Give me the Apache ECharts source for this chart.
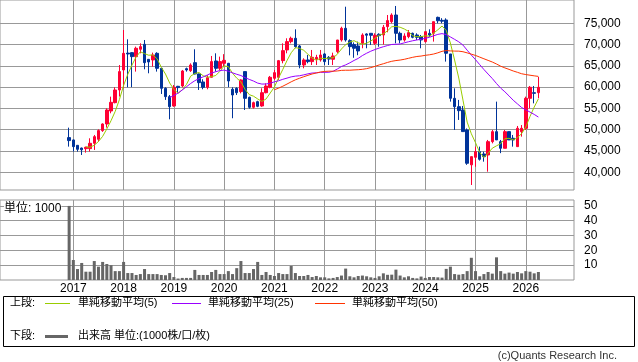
<!DOCTYPE html>
<html><head><meta charset="utf-8">
<script src="https://cdn.jsdelivr.net/npm/echarts@6/dist/echarts.min.js"></script>
<style>html,body{margin:0;padding:0;background:#fff}#c{width:638px;height:362px}</style>
</head><body><div id="c"></div>
<script>
// Monthly candles, Dec 2016 .. Apr 2026
const opens  = [48150,47600,46340,45700,45560,45560,46810,47750,49790,51350,54400,56360,59340,64040,68000,68110,67170,68900,70070,66540,66390,67950,64430,59730,57770,55580,60200,60280,64350,63880,65760,63100,61220,59970,62320,66150,64430,65600,65600,59500,59730,58950,63650,57610,55270,56600,55580,58700,59970,62080,62320,66230,68740,70700,71480,69680,65210,66390,66000,66600,66400,67800,67000,66550,68350,71080,73830,70930,70000,69680,70300,72500,72650,70300,72420,72260,74220,75390,76950,72650,71080,71870,72650,72260,71870,70700,72650,72650,76400,75700,75780,67800,57380,55420,54640,49950,41750,43520,44850,44300,44070,47200,49550,47200,45640,49550,48000,46030,49550,50340,57380,58700,58700];
const closes = [47450,46030,45400,45300,45870,46810,48380,49790,51350,54640,56440,59340,63650,67950,67800,67170,69130,69520,65760,65920,67560,64430,59730,57770,55420,59970,59900,63800,64040,65210,63100,61060,59970,62240,66000,64430,66000,66300,61450,58160,58700,61690,57380,55270,56360,55500,58700,60270,62320,63410,66230,68580,70700,71480,69520,65210,66390,66000,67010,67000,67560,66000,66600,67330,71080,73830,71080,69520,69130,68500,72260,72200,72180,72180,72100,74060,75630,76950,72650,71080,72020,72810,71710,71710,71080,73040,72260,75390,75600,75500,67960,57380,55420,54480,49560,42120,43680,44850,43050,43680,47200,49550,47600,45640,49550,47600,47600,50340,50340,57380,59970,58550,59970];
const lows   = [46030,44860,44860,44070,44620,44860,45250,47200,49500,50500,53860,56200,57800,59730,59970,60000,63650,67950,64200,63260,64820,63650,58400,57000,52450,55400,58700,59970,63650,63570,63000,59340,59500,59500,62300,63650,64040,64750,60000,52700,58160,58550,54640,54950,54950,55300,55400,58550,59730,61700,61700,65600,67950,70300,69130,64430,64430,65600,65210,65200,66000,65200,65200,65200,67950,70700,70700,67480,66900,67500,69130,69130,69900,69900,69500,70000,72890,74990,70300,70300,70700,71480,71480,71080,69130,70460,71800,70700,75000,75000,66000,56600,49950,52300,49560,41750,37020,41300,42750,42500,40150,46800,47600,44500,45640,47600,46030,46030,48380,49950,55030,56200,57380];
const highs  = [50490,47700,46400,45800,46030,47990,48770,50100,51500,55030,57770,59970,65200,73430,71240,68200,69520,70300,71080,66600,68110,68200,64500,59970,58160,60500,60300,64040,64590,65600,68900,63200,61850,62780,67330,67950,67170,67750,65700,59970,59970,61850,63650,57770,56600,56800,59730,60900,62630,64040,66390,70300,71480,71870,73590,69900,66780,67560,68740,67600,68740,68000,67300,68100,71100,74200,78900,71240,70500,70700,72650,72650,72650,72650,72650,74610,76950,77350,79070,73040,72650,73430,72810,72650,72260,73040,73590,75390,76560,76200,76170,67800,59730,57000,55580,50300,43700,46030,46030,44850,47600,49950,56600,47600,49950,49550,48770,50880,51100,57770,60280,60280,62400];
const volumes = [50,13.5,7.4,11.5,5.6,5.6,12.8,9,12.2,10.8,10,6,6,12.2,4.7,4.7,3.4,4,7.4,4,4,4,3.4,3.2,4.7,2,1,1.4,1.4,1.4,6.8,3.4,3.4,3.4,5.4,6.8,4,4,6,4,8,12.8,4.7,4.7,7.4,12.2,3.4,5.4,3.4,2.7,4.7,4,4,9.5,4.7,2.7,2.7,3.4,2,2.7,1.8,1.8,1.1,1.4,2,3,7.7,2.5,1.8,2.7,3,2.5,1.8,1.4,2.5,4.5,3.5,3.6,7,3,1.8,2.5,1.4,1.1,2.3,1.4,2,2,1.8,1.6,7.5,9,4,3.6,4,6,15,6,2.5,4,5.4,4.3,15.3,6,4.3,5,4.3,5.4,4.5,6,5.6,4.5,5.4];
const yearLabels = ['2017','2018','2019','2020','2021','2022','2023','2024','2025','2026'];
const priceTicks = [40000,45000,50000,55000,60000,65000,70000,75000];
const volumeTicks = [10,20,30,40,50];
const maPeriods = [5,25,50];
const maNames = ['単純移動平均(5)','単純移動平均(25)','単純移動平均(50)'];
const maColors = ['#99cc00','#9900ff','#ff3300'];

// month labels for each candle (first = 2016-12)
const months = opens.map((_, k) => { const m = 11 + k; return (2016 + Math.floor(m / 12)) + '-' + String(m % 12 + 1).padStart(2, '0'); });
const yearIdx = yearLabels.map(y => months.indexOf(y + '-01'));

function sma(n) {
  const out = [];
  for (let i = n - 1; i < closes.length; i++) {
    let s = 0; for (let j = i - n + 1; j <= i; j++) s += closes[j];
    out.push([i, s / n]);
  }
  return out;
}

const GRID = '#999';
const FONT = "'Liberation Sans','Noto Sans CJK JP',sans-serif";
const chart = echarts.init(document.getElementById('c'), null, {renderer: 'canvas'});
const xCommon = {
  type: 'value', min: -16.5, max: 120.5,
  axisLine: {show: false},
  axisTick: {show: false, customValues: yearIdx},
  splitLine: {show: true, lineStyle: {color: GRID, width: 1}}
};
chart.setOption({
  animation: false,
  backgroundColor: '#fff',
  grid: [
    {left: 0, top: 0, width: 574, height: 190, show: true, borderColor: GRID, borderWidth: 1},
    {left: 0, top: 200, width: 574, height: 80, show: true, borderColor: GRID, borderWidth: 1}
  ],
  xAxis: [
    Object.assign({gridIndex: 0, axisLabel: {show: false, customValues: yearIdx}}, xCommon),
    Object.assign({gridIndex: 1, axisLabel: {show: true, customValues: yearIdx, margin: 3, color: '#000', fontSize: 12, fontFamily: FONT,
      formatter: v => yearLabels[yearIdx.indexOf(Math.round(v))] || ''}}, xCommon)
  ],
  yAxis: [
    {type: 'value', gridIndex: 0, position: 'right', min: 35842, max: 80475,
     axisLine: {show: false},
     axisTick: {show: true, length: 4, customValues: priceTicks, lineStyle: {color: GRID}},
     axisLabel: {customValues: priceTicks, margin: 10, color: '#000', fontSize: 12, fontFamily: FONT,
       formatter: v => Number(v).toLocaleString('en-US')},
     splitLine: {show: true, lineStyle: {color: GRID, width: 1}}},
    {type: 'value', gridIndex: 1, position: 'right', min: 0, max: 54,
     axisLine: {show: false},
     axisTick: {show: true, length: 5, customValues: volumeTicks, lineStyle: {color: GRID}},
     axisLabel: {customValues: volumeTicks, margin: 10, color: '#000', fontSize: 12, fontFamily: FONT},
     splitLine: {show: true, lineStyle: {color: GRID, width: 1}}}
  ],
  series: [
    {type: 'candlestick', xAxisIndex: 0, yAxisIndex: 0, barWidth: 3,
     encode: {x: 0, y: [1, 2, 3, 4]},
     data: opens.map((o, i) => [i, o, closes[i], lows[i], highs[i]]),
     itemStyle: {color: '#ff0033', color0: '#003399', borderColor: '#ff0033', borderColor0: '#003399', borderWidth: 1}},
    ...maPeriods.map((p, k) => ({type: 'line', name: maNames[k], xAxisIndex: 0, yAxisIndex: 0,
      data: sma(p), showSymbol: false, symbol: 'none', lineStyle: {color: maColors[k], width: 1}, z: 3})),
    {type: 'bar', xAxisIndex: 1, yAxisIndex: 1, barWidth: 3,
     data: volumes.map((v, i) => [i, v]), itemStyle: {color: '#666'}}
  ],
  graphic: [
    {type: 'text', z: 10, style: {x: 4, y: 209, text: '単位: 1000', font: '12px ' + FONT, fill: '#000', verticalAlign: 'middle', backgroundColor: '#fff'}},
    {type: 'rect', shape: {x: 3.5, y: 296.5, width: 631, height: 50}, style: {fill: '#fff', stroke: '#000', lineWidth: 1}},
    {type: 'text', style: {x: 10, y: 303, text: '上段:', font: '11px ' + FONT, fill: '#000', verticalAlign: 'middle'}},
    {type: 'line', shape: {x1: 45, y1: 303.5, x2: 70, y2: 303.5}, style: {stroke: maColors[0], lineWidth: 1}},
    {type: 'text', style: {x: 78, y: 303, text: maNames[0], font: '11px ' + FONT, fill: '#000', verticalAlign: 'middle'}},
    {type: 'line', shape: {x1: 172, y1: 303.5, x2: 201, y2: 303.5}, style: {stroke: maColors[1], lineWidth: 1}},
    {type: 'text', style: {x: 208, y: 303, text: maNames[1], font: '11px ' + FONT, fill: '#000', verticalAlign: 'middle'}},
    {type: 'line', shape: {x1: 315, y1: 303.5, x2: 345, y2: 303.5}, style: {stroke: maColors[2], lineWidth: 1}},
    {type: 'text', style: {x: 352, y: 303, text: maNames[2], font: '11px ' + FONT, fill: '#000', verticalAlign: 'middle'}},
    {type: 'text', style: {x: 10, y: 336, text: '下段:', font: '11px ' + FONT, fill: '#000', verticalAlign: 'middle'}},
    {type: 'line', shape: {x1: 45, y1: 336.5, x2: 68, y2: 336.5}, style: {stroke: '#666', lineWidth: 3}},
    {type: 'text', style: {x: 78, y: 336, text: '出来高 単位:(1000株/口/枚)', font: '11px ' + FONT, fill: '#000', verticalAlign: 'middle'}},
    {type: 'text', style: {x: 617, y: 356, text: '(c)Quants Research Inc.', font: '11px ' + FONT, fill: '#333', align: 'right', verticalAlign: 'middle'}}
  ]
});
</script></body></html>
